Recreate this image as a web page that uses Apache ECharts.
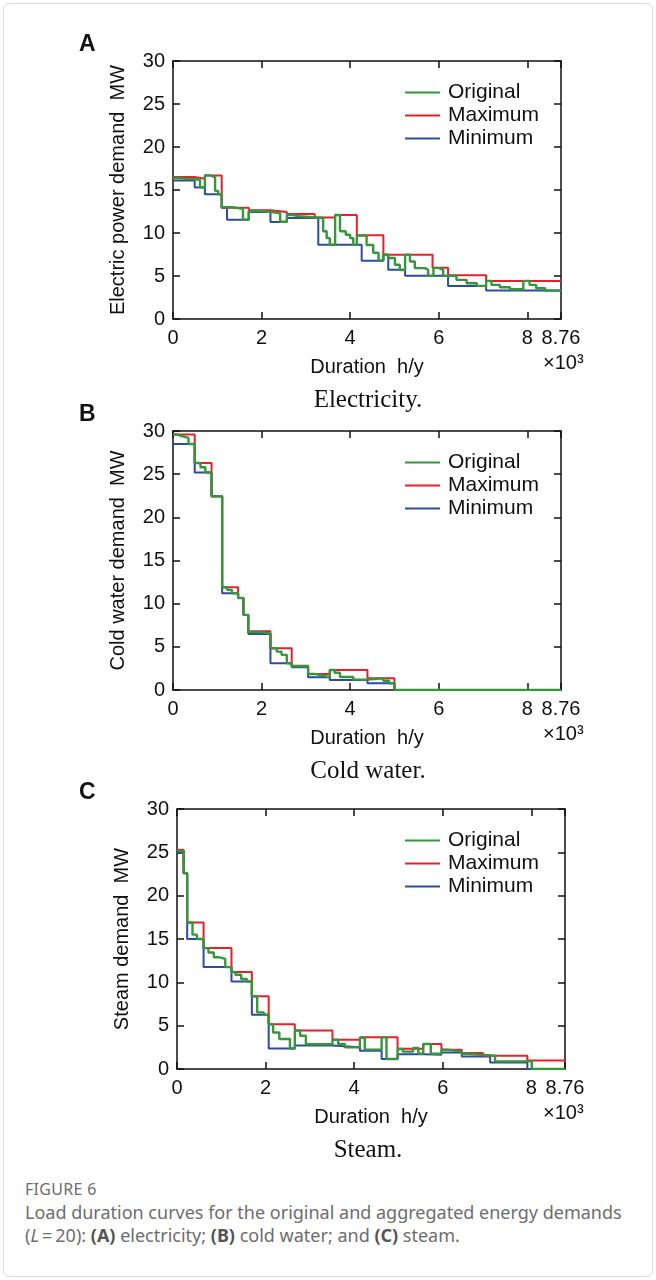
<!DOCTYPE html>
<html>
<head>
<meta charset="utf-8">
<script src="https://cdn.jsdelivr.net/npm/echarts@6/dist/echarts.min.js"></script>
<style>
  body { margin: 0; background: #fff; }
  #frame { position: absolute; left: 3px; top: 3px; width: 648px; height: 1272px; border: 1px solid #dcdcdc; border-radius: 6px; }
  #main { position: absolute; left: 0; top: 0; width: 656px; height: 1170px; }
  #cap { position: absolute; left: 25px; top: 1178px; width: 628px; font-family: 'Noto Sans', 'Open Sans', sans-serif; color: #6d6d6d; }
  #cap .fig { font-size: 16px; letter-spacing: 0.3px; margin-bottom: 1px; }
  #cap .txt { font-size: 18px; line-height: 23px; }
  #cap b { color: #555; }
  .nw { white-space: nowrap; }
</style>
</head>
<body>
<div id="frame"></div>
<div id="main"></div>
<div id="cap">
  <div class="fig">FIGURE 6</div>
  <div class="txt">Load duration curves for the original and aggregated energy demands <span class="nw">(<i>L</i>&#8201;=&#8201;20):</span> <b>(A)</b> electricity; <b>(B)</b> cold water; and <b>(C)</b> steam.</div>
</div>
<script>
// duration axis in 10^3 h/y; each curve = step edges (x) and levels (y)

// (A) electricity
const aMaxX = [0, 0.49, 0.72, 1.10, 1.71, 2.20, 2.57, 3.20, 3.66, 4.15, 4.75, 5.86, 6.21, 7.07, 8.76]
const aMaxY = [16.5, 16.3, 16.7, 12.95, 12.65, 12.45, 12.2, 11.8, 12.1, 9.75, 7.47, 5.95, 5.1, 4.43]
const aMinX = [0, 0.49, 0.72, 1.10, 1.22, 1.71, 2.20, 2.57, 3.28, 4.26, 4.75, 4.86, 5.24, 6.21, 7.07, 8.76]
const aMinY = [16.1, 15.3, 14.5, 12.95, 11.55, 12.45, 11.28, 11.75, 8.63, 6.77, 7.47, 5.72, 5.02, 3.85, 3.3]
const aOrigX = [0, 0.14, 0.35, 0.61, 0.72, 0.85, 0.95, 1.02, 1.10, 1.35, 1.58, 1.71, 1.95, 2.20, 2.42, 2.57, 2.69, 2.84,
  3.39, 3.47, 3.54, 3.66, 3.77, 3.90, 4.00, 4.07, 4.15, 4.37, 4.52, 4.64, 4.75, 4.86, 5.01, 5.12, 5.24, 5.35, 5.46,
  5.69, 5.76, 5.88, 5.99, 6.10, 6.21, 6.40, 6.63, 6.86, 7.07, 7.19, 7.38, 7.61, 7.91, 8.05, 8.20, 8.40, 8.76]
const aOrigY = [16.4, 16.3, 16.2, 15.3, 16.7, 16.5, 14.9, 14.5, 13.0, 12.8, 11.55, 12.55, 12.45, 12.3, 11.3, 12.1, 11.95,
  11.75, 10.2, 9.4, 8.63, 12.1, 10.2, 9.8, 9.4, 8.63, 9.7, 8.6, 7.7, 6.8, 7.47, 7.1, 6.3, 5.7, 7.47, 6.69, 5.91, 5.72,
  5.02, 5.95, 5.72, 5.02, 5.0, 4.55, 4.15, 3.85, 4.43, 3.97, 3.7, 3.46, 4.43, 3.97, 3.58, 3.3]

// (B) cold water
const bMaxX = [0, 0.49, 0.87, 1.11, 1.47, 1.59, 1.70, 2.20, 2.68, 3.05, 3.54, 4.39, 5.0, 8.76]
const bMaxY = [29.6, 26.3, 22.45, 11.9, 10.65, 8.7, 6.8, 4.84, 2.82, 1.86, 2.32, 1.36, 0]
const bMinX = [0, 0.49, 0.87, 1.11, 1.47, 1.59, 1.70, 2.20, 2.68, 3.05, 3.54, 4.39, 5.0, 8.76]
const bMinY = [28.5, 25.2, 22.45, 11.2, 10.65, 8.7, 6.5, 3.1, 2.63, 1.47, 1.16, 0.78, 0]
const bOrigX = [0, 0.08, 0.2, 0.35, 0.49, 0.62, 0.73, 0.87, 1.11, 1.22, 1.33, 1.47, 1.59, 1.70, 1.97, 2.20, 2.34, 2.45,
  2.57, 2.68, 3.05, 3.2, 3.4, 3.54, 3.65, 3.77, 4.07, 4.39, 4.75, 4.88, 5.0, 8.76]
const bOrigY = [29.6, 29.4, 29.2, 28.5, 26.3, 25.8, 25.2, 22.45, 11.9, 11.6, 11.2, 10.65, 8.7, 6.7, 6.55, 4.84, 4.45,
  4.07, 3.1, 2.75, 1.86, 1.65, 1.47, 2.32, 2.0, 1.5, 1.2, 1.36, 1.08, 0.78, 0]

// (C) steam
const cMaxX = [0, 0.15, 0.23, 0.60, 1.23, 1.69, 2.07, 2.66, 3.51, 4.13, 4.98, 5.56, 5.97, 6.43, 6.91, 7.91, 8.76]
const cMaxY = [25.3, 22.6, 16.9, 13.95, 11.19, 8.38, 5.15, 4.45, 3.38, 3.65, 2.35, 2.88, 2.23, 1.85, 1.53, 0.99]
const cMinX = [0, 0.15, 0.23, 0.60, 1.23, 1.69, 2.07, 2.66, 3.51, 4.13, 4.62, 4.98, 5.56, 5.97, 6.43, 7.07, 7.91, 8.76]
const cMinY = [25.0, 22.6, 15.0, 11.76, 10.1, 6.26, 2.36, 2.72, 2.5, 2.1, 1.15, 1.7, 1.65, 1.9, 1.45, 0.76, 0]
const cOrigX = [0, 0.15, 0.23, 0.35, 0.45, 0.60, 0.71, 0.83, 0.94, 1.09, 1.23, 1.32, 1.45, 1.58, 1.69, 1.81, 1.96, 2.07,
  2.17, 2.31, 2.55, 2.66, 2.78, 2.91, 3.51, 3.64, 3.79, 4.13, 4.24, 4.62, 4.73, 4.98, 5.10, 5.33, 5.45, 5.56, 5.73,
  5.97, 6.09, 6.43, 6.55, 7.18, 8.01, 8.76]
const cOrigY = [25.2, 22.6, 16.9, 15.5, 15.0, 13.95, 13.45, 12.9, 12.7, 11.76, 11.19, 10.88, 10.38, 10.1, 8.38, 6.53,
  6.26, 5.15, 4.22, 3.46, 2.36, 4.45, 3.84, 2.85, 3.38, 2.88, 2.5, 3.6, 2.23, 3.65, 1.15, 2.3, 2.0, 2.42, 1.76, 2.88,
  1.76, 2.23, 2.03, 1.76, 1.53, 0.88, 0]

const seriesNames = ['Original', 'Maximum', 'Minimum']
const yNames = ['Electric power demand  MW', 'Cold water demand  MW', 'Steam demand  MW']
const captions = ['Electricity.', 'Cold water.', 'Steam.']
const panelLetters = ['A', 'B', 'C']

const GREEN = '#35963c', RED = '#e7202a', BLUE = '#2c4c9e'
const SANS = "'Liberation Sans', Arial, sans-serif"
const SERIF = "'Liberation Serif', 'Times New Roman', serif"

const grids = [
  { left: 173, top: 61, width: 388, height: 258 },
  { left: 173, top: 431, width: 388, height: 259 },
  { left: 177, top: 809, width: 388, height: 260 }
]

function steps(xs, ys) {
  const d = ys.map((y, i) => [xs[i], y])
  d.push([xs[xs.length - 1], ys[ys.length - 1]])
  return d
}

const panels = [
  { orig: [aOrigX, aOrigY], max: [aMaxX, aMaxY], min: [aMinX, aMinY] },
  { orig: [bOrigX, bOrigY], max: [bMaxX, bMaxY], min: [bMinX, bMinY] },
  { orig: [cOrigX, cOrigY], max: [cMaxX, cMaxY], min: [cMinX, cMinY] }
]

const axisLine = () => ({ show: true, onZero: false, lineStyle: { color: '#111', width: 1.5 } })
const tickIn = () => ({ show: true, inside: true, length: 7, lineStyle: { color: '#111', width: 1.5 } })
const nameStyle = () => ({ color: '#111', fontSize: 20, fontFamily: SANS })

const xAxis = [], yAxis = [], series = [], legend = [], graphic = []

grids.forEach((g, i) => {
  xAxis.push({
    gridIndex: i, type: 'value', position: 'bottom', min: 0, max: 8.76, interval: 2,
    axisLine: axisLine(), axisTick: tickIn(), splitLine: { show: false },
    axisLabel: { color: '#111', fontSize: 20, fontFamily: SANS, margin: 9 },
    name: 'Duration  h/y', nameLocation: 'middle', nameGap: 38, nameTextStyle: nameStyle()
  })
  xAxis.push({
    gridIndex: i, type: 'value', position: 'top', min: 0, max: 8.76, interval: 2,
    axisLine: axisLine(), axisTick: tickIn(), axisLabel: { show: false }, splitLine: { show: false }
  })
  yAxis.push({
    gridIndex: i, type: 'value', position: 'left', min: 0, max: 30, interval: 5,
    axisLine: axisLine(), axisTick: tickIn(), splitLine: { show: false },
    axisLabel: { color: '#111', fontSize: 20, fontFamily: SANS, margin: 8 },
    name: yNames[i], nameLocation: 'middle', nameGap: 45, nameTextStyle: nameStyle()
  })
  yAxis.push({
    gridIndex: i, type: 'value', position: 'right', min: 0, max: 30, interval: 5,
    axisLine: axisLine(), axisTick: tickIn(), axisLabel: { show: false }, splitLine: { show: false }
  })

  const p = panels[i]
  const mk = (name, xy, color, width, z) => ({
    name, type: 'line', step: 'end', xAxisIndex: 2 * i, yAxisIndex: 2 * i,
    data: steps(xy[0], xy[1]), symbol: 'none', z,
    lineStyle: { color, width }, itemStyle: { color }
  })
  series.push(mk('Minimum', p.min, BLUE, 2, 2))
  series.push(mk('Maximum', p.max, RED, 2, 3))
  series.push(mk('Original', p.orig, GREEN, 2.4, 4))

  legend.push({
    data: seriesNames, orient: 'vertical', left: 405, top: g.top + 21, padding: 0,
    itemWidth: 35, itemHeight: 2, icon: 'rect', itemGap: 2, selectedMode: false,
    textStyle: { color: '#111', fontSize: 21, fontFamily: SANS, padding: [0, 0, 0, 3] }
  })

  graphic.push({
    type: 'text', left: 79, top: g.top - 28,
    style: { text: panelLetters[i], font: "bold 23px " + SANS, fill: '#111' }
  })
  graphic.push({
    type: 'text', left: 543, top: g.top + g.height + 34,
    style: { text: '×10³', font: "20px " + SANS, fill: '#111' }
  })
  graphic.push({
    type: 'text', x: 368, y: g.top + g.height + 81,
    style: { text: captions[i], font: "25px " + SERIF, fill: '#111', align: 'center', verticalAlign: 'middle' }
  })
})

const chart = echarts.init(document.getElementById('main'))
chart.setOption({
  animation: false,
  backgroundColor: 'transparent',
  grid: grids.map(g => ({ ...g, containLabel: false })),
  xAxis, yAxis, series, legend, graphic
})
</script>
</body>
</html>
